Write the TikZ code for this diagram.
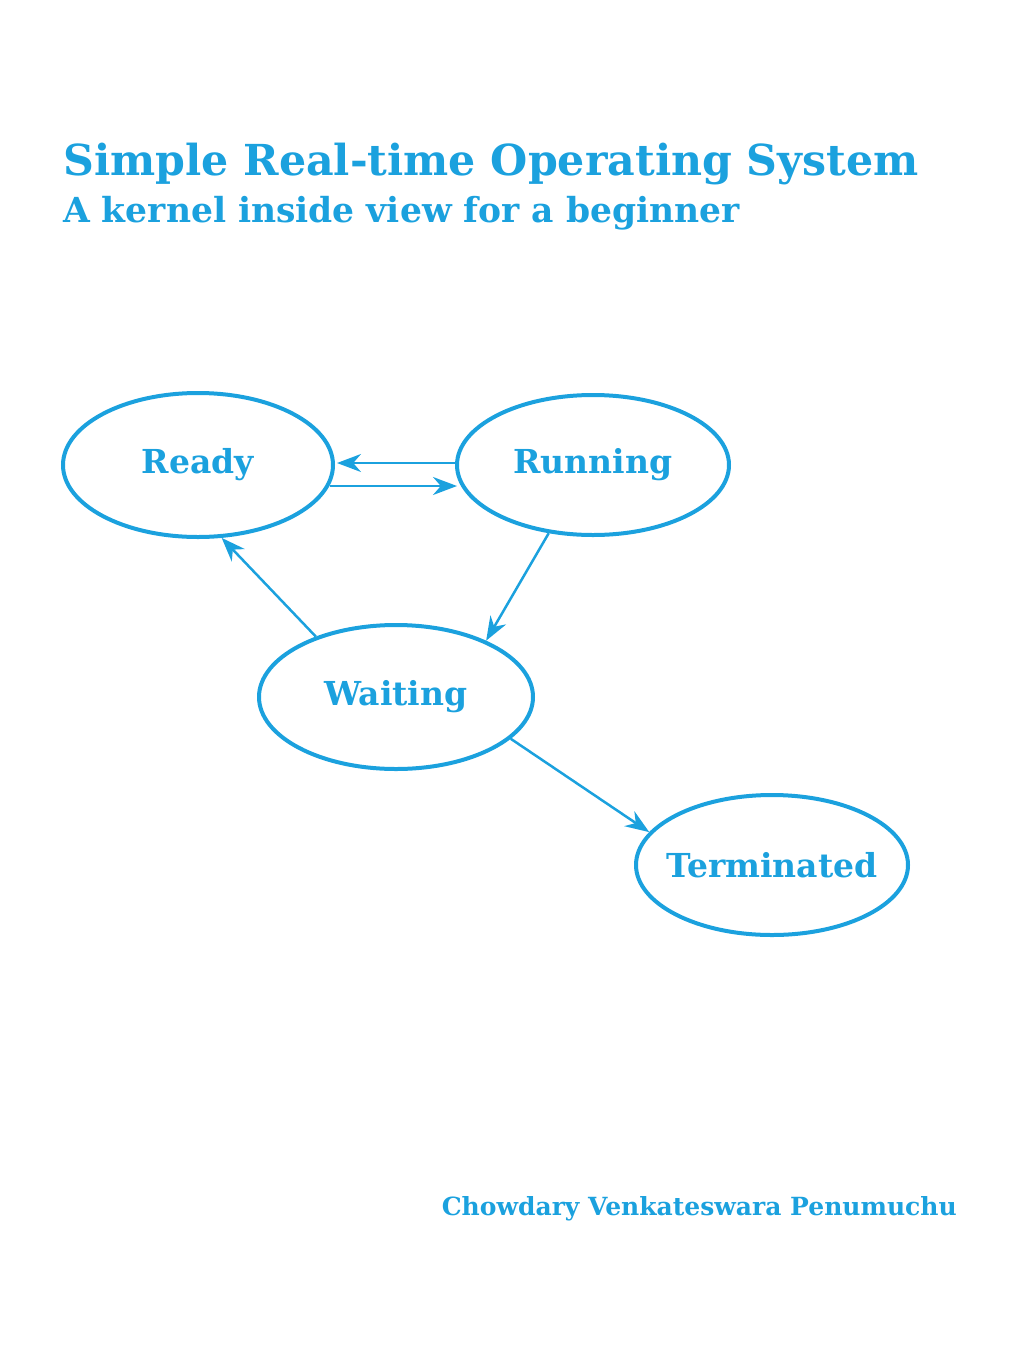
\documentclass[tikz,border=0pt]{standalone}
\usepackage{fontspec}
\setmainfont{DejaVu Serif}
\usetikzlibrary{shapes.geometric,arrows.meta}
\definecolor{cy}{RGB}{27,161,222}
\begin{document}
\begin{tikzpicture}[x=1pt,y=-1pt,
  st/.style={ellipse,draw=cy,line width=4pt,text=cy,font=\bfseries\fontsize{33}{38}\selectfont,inner sep=0pt},
  ar/.style={draw=cy,line width=2.5pt,-{Stealth[length=24pt,width=18pt]}}]
\useasboundingbox (0,0) rectangle (1020,1360);
\node[anchor=base west,text=cy,font=\bfseries\fontsize{42.7}{48}\selectfont,inner sep=0pt] (t1) at (63,175) {Simple Real-time Operating System};
\node[anchor=base west,text=cy,font=\bfseries\fontsize{34.5}{38}\selectfont,inner sep=0pt] (t2) at (63,222) {A kernel inside view for a beginner};
\node[anchor=base east,text=cy,font=\bfseries\fontsize{25}{29}\selectfont,inner sep=0pt] (au) at (957,1215) {Chowdary Venkateswara Penumuchu};
\node[st,minimum width=270pt,minimum height=144pt] (rd) at (198,465) {Ready};
\node[st,minimum width=272pt,minimum height=140pt] (rn) at (593,465) {Running};
\node[st,minimum width=274pt,minimum height=144pt] (wt) at (396,697) {Waiting};
\node[st,minimum width=272pt,minimum height=140pt,inner xsep=-12pt] (tm) at (772,865) {Terminated};
\draw[ar] ([yshift=2pt]rn.west) -- ([yshift=2pt,xshift=2pt]rd.east);
\draw[ar] ([yshift=-21pt,xshift=-5pt]rd.east) -- ([yshift=-21pt,xshift=2pt]rn.west);
\draw[ar] (rn.-123.7) -- (wt.32.6);
\draw[ar] (wt.143.8) -- (rd.-72.7);
\draw[ar] (wt.-20.3) -- (tm.165);
\end{tikzpicture}
\end{document}
